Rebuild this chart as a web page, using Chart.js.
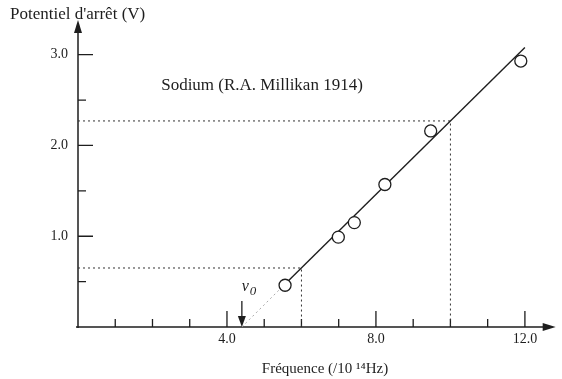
<!DOCTYPE html>
<html>
<head>
<meta charset="utf-8">
<script src="https://cdn.jsdelivr.net/npm/chart.js@4/dist/chart.umd.min.js"></script>
<style>
html, body { margin: 0; padding: 0; background: #fff; }
#wrap { width: 562px; height: 379px; }
</style>
</head>
<body>
<div id="wrap"><canvas id="millikan" width="562" height="379"></canvas></div>
<script>
// measured points: frequency (10^14 Hz) / stopping potential (V)
var freq = [5.56, 6.99, 7.42, 8.24, 9.47, 11.89];
var volts = [0.46, 0.99, 1.15, 1.57, 2.16, 2.93];

// fitted line ends, and threshold frequency nu0
var fitFreq = [5.65, 12.0];
var fitVolts = [0.51, 3.08];
var nu0 = 4.4;

// dotted reading lines
var guideFreq = [6.0, 10.0];
var guideVolts = [0.65, 2.27];

// labelled ticks
var xLabels = [4, 8, 12];
var yLabels = [1, 2, 3];

var ink = '#1e1e1e';
var serif = '"Liberation Serif", "DejaVu Serif", serif';

var pts = freq.map(function (f, i) { return { x: f, y: volts[i] }; });
var fit = fitFreq.map(function (f, i) { return { x: f, y: fitVolts[i] }; });

var guide = function (i) {
    return {
        data: [{ x: 0, y: guideVolts[i] }, { x: guideFreq[i], y: guideVolts[i] }, { x: guideFreq[i], y: 0 }],
        type: 'line', showLine: true, borderColor: '#333', borderWidth: 1,
        borderDash: [2, 3], pointRadius: 0, fill: false, clip: false
    };
};

var axesPlugin = {
    id: 'axes',
    beforeDatasetsDraw: function (chart) {
        var ctx = chart.ctx, a = chart.chartArea;
        var xs = chart.scales.x, ys = chart.scales.y;
        ctx.save();
        ctx.strokeStyle = ink;
        ctx.fillStyle = ink;
        ctx.lineWidth = 1.5;
        // axes
        ctx.beginPath();
        ctx.moveTo(a.left - 2, a.bottom);
        ctx.lineTo(a.right - 6, a.bottom);
        ctx.moveTo(a.left, a.bottom + 1);
        ctx.lineTo(a.left, a.top + 6);
        ctx.stroke();
        // arrow heads
        ctx.beginPath();
        ctx.moveTo(a.right + 1, a.bottom);
        ctx.lineTo(a.right - 12, a.bottom - 4);
        ctx.lineTo(a.right - 12, a.bottom + 4);
        ctx.closePath();
        ctx.fill();
        ctx.beginPath();
        ctx.moveTo(a.left, a.top - 2);
        ctx.lineTo(a.left - 4, a.top + 11);
        ctx.lineTo(a.left + 4, a.top + 11);
        ctx.closePath();
        ctx.fill();
        // tick marks pointing inward
        ctx.lineWidth = 1.3;
        ctx.beginPath();
        xs.ticks.forEach(function (t) {
            if (t.value <= 0) return;
            var px = xs.getPixelForValue(t.value);
            var len = t.value % 4 === 0 ? 16 : 8;
            ctx.moveTo(px, a.bottom);
            ctx.lineTo(px, a.bottom - len);
        });
        ys.ticks.forEach(function (t) {
            if (t.value <= 0) return;
            var py = ys.getPixelForValue(t.value);
            var len = t.value % 1 === 0 ? 15 : 8;
            ctx.moveTo(a.left, py);
            ctx.lineTo(a.left + len, py);
        });
        ctx.stroke();
        ctx.restore();
    },
    afterDraw: function (chart) {
        var ctx = chart.ctx, a = chart.chartArea;
        var xs = chart.scales.x;
        ctx.save();
        ctx.fillStyle = ink;
        ctx.strokeStyle = ink;
        ctx.textBaseline = 'middle';
        // y-axis title, top left
        ctx.font = '17px ' + serif;
        ctx.textAlign = 'left';
        ctx.fillText("Potentiel d'arrêt (V)", 10, 15);
        // series label
        ctx.font = '17px ' + serif;
        ctx.textAlign = 'center';
        ctx.fillText('Sodium (R.A. Millikan 1914)', 262, 86);
        // x-axis title
        ctx.font = '15px ' + serif;
        ctx.fillText('Fréquence (/10 ¹⁴Hz)', 325, 369);
        // nu0 arrow
        var px = xs.getPixelForValue(nu0);
        ctx.lineWidth = 1.3;
        ctx.beginPath();
        ctx.moveTo(px, a.bottom - 26);
        ctx.lineTo(px, a.bottom - 8);
        ctx.stroke();
        ctx.beginPath();
        ctx.moveTo(px, a.bottom);
        ctx.lineTo(px - 4, a.bottom - 11);
        ctx.lineTo(px + 4, a.bottom - 11);
        ctx.closePath();
        ctx.fill();
        ctx.font = 'italic 16px ' + serif;
        ctx.textAlign = 'left';
        ctx.fillText('ν', px, a.bottom - 40);
        ctx.font = 'italic 13px ' + serif;
        ctx.fillText('0', px + 8, a.bottom - 35);
        ctx.restore();
    }
};

new Chart('millikan', {
    type: 'scatter',
    data: {
        datasets: [{
            data: pts,
            pointStyle: 'circle',
            pointRadius: 6,
            pointBorderWidth: 1.3,
            pointBackgroundColor: '#fff',
            pointBorderColor: ink,
            clip: false
        }, {
            data: fit,
            type: 'line', showLine: true, borderColor: ink, borderWidth: 1.4,
            pointRadius: 0, fill: false, clip: false
        }, {
            data: [{ x: nu0, y: 0 }, fit[0]],
            type: 'line', showLine: true, borderColor: '#aaa', borderWidth: 1,
            borderDash: [2, 3], pointRadius: 0, fill: false, clip: false
        }, guide(0), guide(1)]
    },
    options: {
        responsive: false,
        animation: false,
        events: [],
        layout: { padding: { top: 22, right: 2, left: 0, bottom: 0 } },
        plugins: { legend: { display: false }, tooltip: { enabled: false } },
        scales: {
            x: {
                type: 'linear', min: 0, max: 12.8,
                grid: { display: false, drawTicks: false },
                border: { display: false },
                afterFit: function (s) { s.height = 52; },
                ticks: {
                    stepSize: 1, includeBounds: false, autoSkip: false, maxRotation: 0,
                    padding: 4, color: ink, font: { family: serif, size: 14 },
                    callback: function (v) { return xLabels.indexOf(v) >= 0 ? v.toFixed(1) : ''; }
                }
            },
            y: {
                type: 'linear', min: 0, max: 3.36,
                grid: { display: false, drawTicks: false },
                border: { display: false },
                afterFit: function (s) { s.width = 78; },
                ticks: {
                    stepSize: 0.5, includeBounds: false, autoSkip: false,
                    padding: 10, color: ink, font: { family: serif, size: 14 },
                    callback: function (v) { return yLabels.indexOf(v) >= 0 ? v.toFixed(1) : ''; }
                }
            }
        }
    },
    plugins: [axesPlugin]
});
</script>
</body>
</html>
